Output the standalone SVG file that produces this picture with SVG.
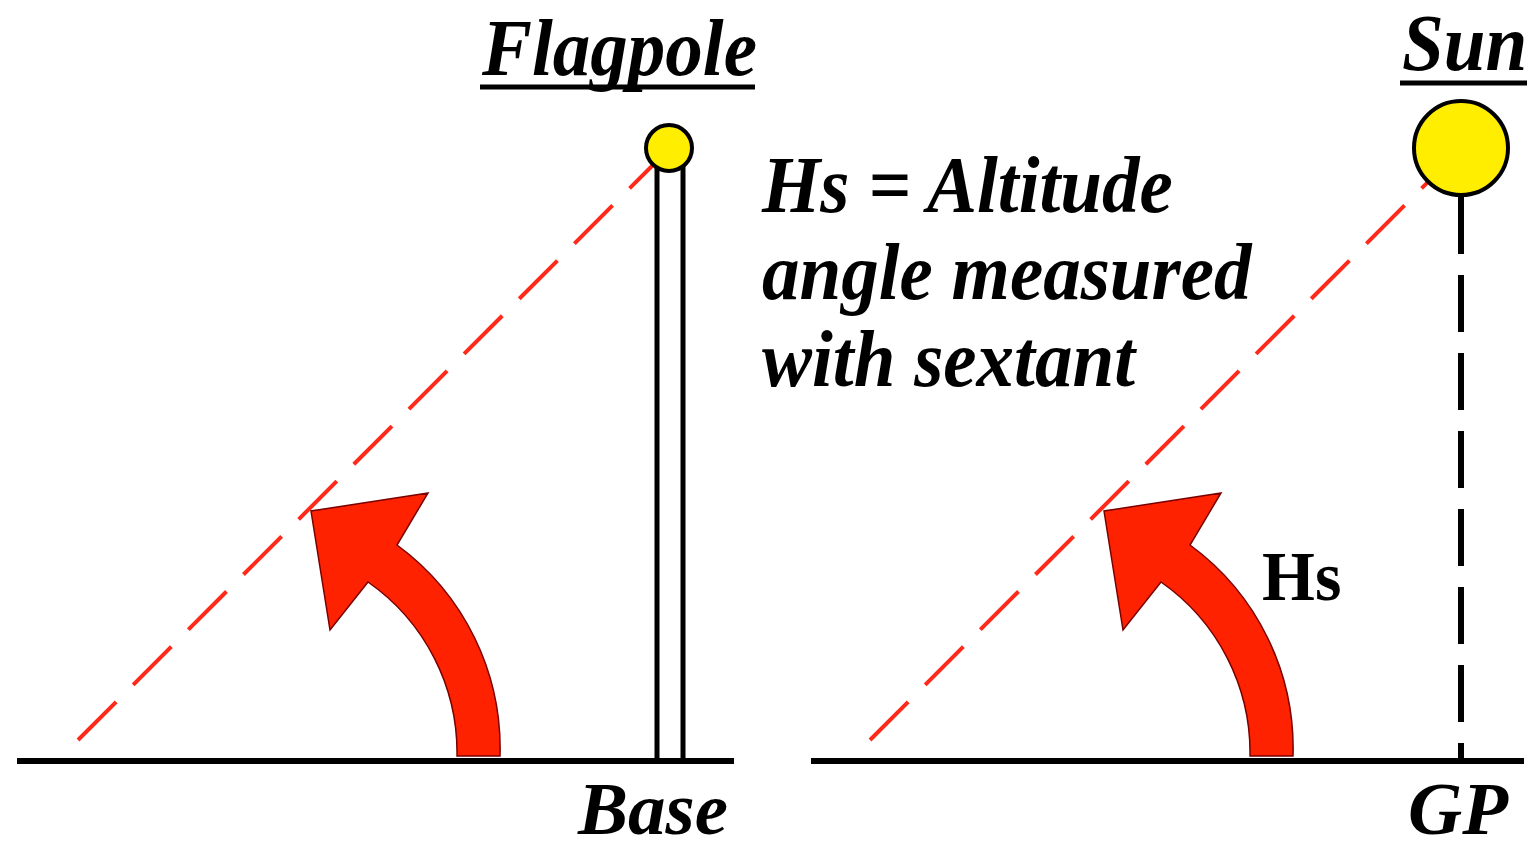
<svg xmlns="http://www.w3.org/2000/svg" width="1530" height="854" viewBox="0 0 1530 854">
<style>
.t{font-family:"Liberation Serif","Times New Roman",serif;font-weight:bold;font-style:italic;font-size:75px;fill:#000}
.hs{font-family:"Liberation Serif","Times New Roman",serif;font-weight:bold;font-size:68px;fill:#000}
.ground{stroke:#000;stroke-width:6;fill:none}
.pole{stroke:#000;stroke-width:5;fill:none}
.sight{stroke:#ff2a1a;stroke-width:4;fill:none;stroke-dasharray:54 24}
.gp{stroke:#000;stroke-width:6;fill:none;stroke-dasharray:57 21}
.ball{fill:#ffee00;stroke:#000;stroke-width:4}
.arrow{fill:#ff2200;stroke:#7a0000;stroke-width:1.5;stroke-linejoin:miter}
.ul{stroke:#000;stroke-width:5}
</style>
<defs>
<path id="arc" d="M 457 756 A 208 208 0 0 0 368 582 L 330 630 L 311 511 L 428 493 L 397 545 A 252 252 0 0 1 500 756 Z"/>
</defs>
<rect width="1530" height="854" fill="#fff"/>
<g id="connectors">
<line class="sight" x1="78" y1="740" x2="660" y2="158"/>
<line class="sight" x1="870" y1="740" x2="1440" y2="170"/>
<line class="gp" x1="1461" y1="197" x2="1461" y2="761"/>
</g>
<g id="flagpole">
<line class="ground" x1="17" y1="761" x2="734" y2="761"/>
<line class="pole" x1="657" y1="165" x2="657" y2="761"/>
<line class="pole" x1="683" y1="165" x2="683" y2="761"/>
<circle class="ball" cx="669" cy="148" r="23"/>
<use href="#arc" class="arrow"/>
<text class="t" transform="translate(482,75) scale(1,1.06)">Flagpole</text>
<line class="ul" x1="480" y1="87" x2="755" y2="87"/>
<text class="t" x="578" y="834" font-size="72">Base</text>
</g>
<g id="sun">
<line class="ground" x1="811" y1="761" x2="1524" y2="761"/>
<circle class="ball" cx="1461" cy="148" r="47"/>
<use href="#arc" class="arrow" transform="translate(793,0)"/>
<text class="hs" transform="translate(1262,600) scale(1,1.04)">Hs</text>
<text class="t" transform="translate(1402,70) scale(1,1.06)">Sun</text>
<line class="ul" x1="1400" y1="83" x2="1527" y2="83"/>
<text class="t" x="1408" y="834" font-size="72">GP</text>
</g>
<g id="caption">
<text class="t" transform="translate(762,212) scale(1,1.07)">Hs = Altitude</text>
<text class="t" transform="translate(762,299) scale(1,1.07)">angle measured</text>
<text class="t" transform="translate(762,386) scale(1,1.07)">with sextant</text>
</g>
</svg>
